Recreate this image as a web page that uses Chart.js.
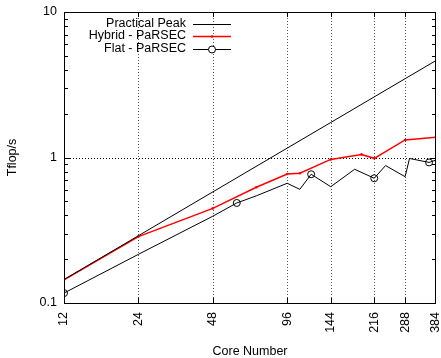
<!DOCTYPE html>
<html>
<head>
<meta charset="utf-8">
<script src="https://cdn.jsdelivr.net/npm/chart.js@4"></script>
<style>
html, body { margin: 0; padding: 0; background: #fff; }
</style>
</head>
<body>
<canvas id="chart" width="441" height="358"></canvas>
<script>
// data
const xTicks = [12, 24, 48, 96, 144, 216, 288, 384]
const yTicks = [0.1, 1, 10]

const peakCores = [12, 24, 48, 96, 144, 216, 288, 384]
const peakTflops = [0.145, 0.29, 0.58, 1.16, 1.74, 2.61, 3.48, 4.64]

const hybridCores = [12, 24, 48, 72, 96, 108, 144, 192, 216, 288, 384]
const hybridTflops = [0.144, 0.286, 0.447, 0.624, 0.77, 0.78, 0.97, 1.05, 0.987, 1.32, 1.38]

const flatCores = [12, 24, 48, 60, 72, 96, 108, 120, 144, 180, 216, 240, 288, 300, 360, 384]
const flatTflops = [0.117, 0.216, 0.395, 0.487, 0.545, 0.665, 0.604, 0.767, 0.63, 0.83, 0.72, 0.88, 0.738, 0.985, 0.925, 0.96]
const flatMarked = [12, 60, 120, 216, 360]

const FONT = { family: '"Liberation Sans", Arial, sans-serif', size: 12.5 }

const toPoints = (xs, ys) => xs.map((x, i) => ({ x: x, y: ys[i] }))

const crisp = v => Math.round(v) + 0.5

// gnuplot-like frame, inward ticks and dotted grid
const framePlugin = {
    id: 'frame',
    beforeDatasetsDraw(chart) {
        const { ctx, chartArea: a, scales: { x, y } } = chart
        ctx.save()
        ctx.lineWidth = 1
        ctx.setLineDash([1, 2])
        ctx.strokeStyle = '#555'
        xTicks.slice(1, -1).forEach(v => {
            const px = crisp(x.getPixelForValue(v))
            ctx.beginPath()
            ctx.moveTo(px, a.top)
            ctx.lineTo(px, a.bottom)
            ctx.stroke()
        })
        ctx.strokeStyle = '#000'
        const py = crisp(y.getPixelForValue(1))
        ctx.beginPath()
        ctx.moveTo(a.left, py)
        ctx.lineTo(a.right, py)
        ctx.stroke()
        ctx.restore()
    },
    afterDatasetsDraw(chart) {
        const { ctx, chartArea: a, scales: { x, y } } = chart
        ctx.save()
        ctx.lineWidth = 1
        ctx.strokeStyle = '#000'
        ctx.beginPath()
        xTicks.slice(1, -1).forEach(v => {
            const px = crisp(x.getPixelForValue(v))
            ctx.moveTo(px, a.bottom)
            ctx.lineTo(px, a.bottom - 5)
            ctx.moveTo(px, a.top)
            ctx.lineTo(px, a.top + 5)
        })
        ;[0.1, 1].forEach(dec => {
            for (let k = 1; k <= 9; k++) {
                const v = dec * k
                if (v <= 0.1) continue
                const py = crisp(y.getPixelForValue(v))
                const len = k === 1 ? 6 : 4
                ctx.moveTo(a.left, py)
                ctx.lineTo(a.left + len, py)
                ctx.moveTo(a.right, py)
                ctx.lineTo(a.right - len, py)
            }
        })
        ctx.stroke()
        ctx.strokeRect(crisp(a.left), crisp(a.top), Math.round(a.right - a.left) - 1, Math.round(a.bottom - a.top))
        ctx.restore()
    },
    afterDraw(chart) {
        // key: right-aligned text, sample line on the right
        const { ctx } = chart
        ctx.save()
        ctx.font = FONT.size + 'px ' + FONT.family
        ctx.textAlign = 'right'
        ctx.textBaseline = 'middle'
        ctx.fillStyle = '#000'
        const rows = [23.5, 36, 48.5]
        chart.data.datasets.forEach((ds, i) => {
            const yy = rows[i]
            ctx.fillText(ds.label, 186, yy)
            ctx.strokeStyle = ds.borderColor
            ctx.lineWidth = ds.borderWidth
            ctx.beginPath()
            ctx.moveTo(193, Math.round(yy) + 0.5)
            ctx.lineTo(231, Math.round(yy) + 0.5)
            ctx.stroke()
            if (ds.legendMarker) {
                ctx.lineWidth = 1
                ctx.beginPath()
                ctx.arc(212, Math.round(yy) + 0.5, ds.legendMarker, 0, Math.PI * 2)
                if (ds.legendMarker < 2) {
                    ctx.fillStyle = ds.borderColor
                    ctx.fill()
                } else {
                    ctx.fillStyle = '#fff'
                    ctx.fill()
                    ctx.stroke()
                }
                ctx.fillStyle = '#000'
            }
        })
        ctx.restore()
    }
}

new Chart(document.getElementById('chart'), {
    type: 'line',
    data: {
        datasets: [{
            label: 'Practical Peak',
            data: toPoints(peakCores, peakTflops),
            borderColor: '#000',
            borderWidth: 1,
            pointRadius: 0
        }, {
            label: 'Hybrid - PaRSEC',
            data: toPoints(hybridCores, hybridTflops),
            borderColor: '#ff0000',
            backgroundColor: '#ff0000',
            borderWidth: 1.5,
            pointRadius: 1.3,
            pointBorderWidth: 0,
            legendMarker: 1.3
        }, {
            label: 'Flat - PaRSEC',
            data: toPoints(flatCores, flatTflops),
            borderColor: '#000',
            backgroundColor: 'rgba(0,0,0,0)',
            borderWidth: 1,
            pointRadius: flatCores.map(c => flatMarked.includes(c) ? 3.5 : 0),
            pointBorderWidth: 1,
            legendMarker: 3.5
        }]
    },
    options: {
        responsive: false,
        animation: false,
        layout: { padding: { top: 12, right: 4, left: 0, bottom: 0 } },
        elements: { line: { tension: 0 } },
        plugins: {
            legend: { display: false },
            tooltip: { enabled: false }
        },
        scales: {
            x: {
                type: 'logarithmic',
                min: 12,
                max: 384,
                afterBuildTicks: s => { s.ticks = xTicks.map(v => ({ value: v })) },
                afterFit: s => {
                    s.height = 55
                    s.paddingLeft = 0
                    s.paddingRight = 0
                },
                grid: { display: false, drawTicks: false },
                border: { display: false },
                ticks: {
                    autoSkip: false,
                    minRotation: 90,
                    maxRotation: 90,
                    padding: 9,
                    color: '#000',
                    font: FONT,
                    callback: v => String(v)
                },
                title: {
                    display: true,
                    text: 'Core Number',
                    color: '#000',
                    font: Object.assign({ lineHeight: 1 }, FONT),
                    padding: { top: 0, bottom: 0 }
                }
            },
            y: {
                type: 'logarithmic',
                min: 0.1,
                max: 10,
                afterBuildTicks: s => { s.ticks = yTicks.map(v => ({ value: v })) },
                afterFit: s => {
                    s.width = 64
                    s.paddingTop = 0
                    s.paddingBottom = 0
                },
                grid: { display: false, drawTicks: false },
                border: { display: false },
                ticks: {
                    padding: 7,
                    color: '#000',
                    font: FONT,
                    callback: v => String(v)
                },
                title: {
                    display: true,
                    text: 'Tflop/s',
                    color: '#000',
                    font: Object.assign({ lineHeight: 1 }, FONT),
                    padding: { top: 6, bottom: 0 }
                }
            }
        }
    },
    plugins: [framePlugin]
})
</script>
</body>
</html>
